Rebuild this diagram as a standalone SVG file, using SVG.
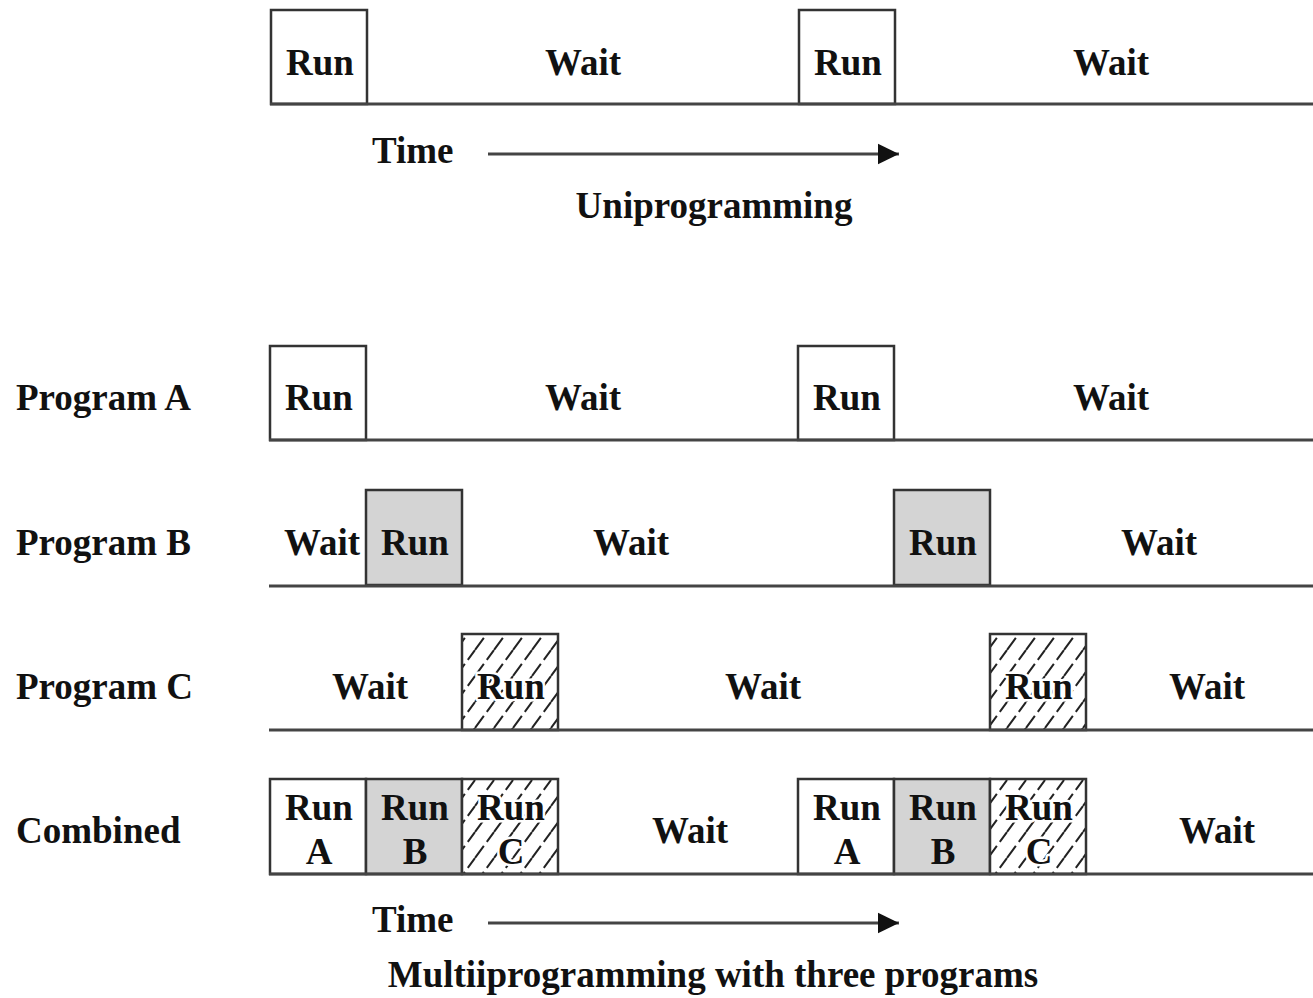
<svg xmlns="http://www.w3.org/2000/svg" width="1313" height="998" viewBox="0 0 1313 998">
  <style>
    text { font-family: "Liberation Serif", "Times New Roman", serif; font-weight: bold; font-size: 37px; fill: #111; }
    .c { text-anchor: middle; }
    .halo { stroke: #fff; stroke-width: 5; paint-order: stroke; stroke-linejoin: round; }
    .box { stroke: #333; stroke-width: 2.5; }
    .base { stroke: #444; stroke-width: 3; fill: none; }
    .white { fill: #fff; }
    .grey { fill: #d4d4d4; }
    .hatch { fill: url(#hatch); }
    .axis { stroke: #444; stroke-width: 3; fill: none; marker-end: url(#arrow); }
  </style>
  <defs>
    <pattern id="hatch" patternUnits="userSpaceOnUse" width="19" height="26">
      <rect width="19" height="26" fill="#fff"/>
      <line x1="0" y1="26" x2="19" y2="0" stroke="#222" stroke-width="2" stroke-dasharray="15 5"/>
      <line x1="-19" y1="26" x2="0" y2="0" stroke="#222" stroke-width="2" stroke-dasharray="15 5"/>
      <line x1="19" y1="26" x2="38" y2="0" stroke="#222" stroke-width="2" stroke-dasharray="15 5"/>
    </pattern>
    <marker id="arrow" markerWidth="8" markerHeight="8" refX="7" refY="4" orient="auto" markerUnits="strokeWidth">
      <polygon points="0,0.6 7,4 0,7.4" fill="#111"/>
    </marker>
  </defs>

  <!-- Uniprogramming timeline -->
  <g id="uni">
    <rect class="box white" x="271" y="10" width="96" height="94"/>
    <rect class="box white" x="799" y="10" width="96" height="94"/>
    <line class="base" x1="270" y1="104" x2="1313" y2="104"/>
    <text class="c" x="320" y="75">Run</text>
    <text class="c" x="583" y="75">Wait</text>
    <text class="c" x="848" y="75">Run</text>
    <text class="c" x="1111" y="75">Wait</text>
  </g>

  <!-- Program A -->
  <g id="progA">
    <text x="16" y="410">Program A</text>
    <rect class="box white" x="270" y="346" width="96" height="94"/>
    <rect class="box white" x="798" y="346" width="96" height="94"/>
    <line class="base" x1="269" y1="440" x2="1313" y2="440"/>
    <text class="c" x="319" y="410">Run</text>
    <text class="c" x="583" y="410">Wait</text>
    <text class="c" x="847" y="410">Run</text>
    <text class="c" x="1111" y="410">Wait</text>
  </g>

  <!-- Program B -->
  <g id="progB">
    <text x="16" y="555">Program B</text>
    <rect class="box grey" x="366" y="490" width="96" height="95"/>
    <rect class="box grey" x="894" y="490" width="96" height="95"/>
    <line class="base" x1="269" y1="586" x2="1313" y2="586"/>
    <text class="c" x="322" y="555">Wait</text>
    <text class="c" x="415" y="555">Run</text>
    <text class="c" x="631" y="555">Wait</text>
    <text class="c" x="943" y="555">Run</text>
    <text class="c" x="1159" y="555">Wait</text>
  </g>

  <!-- Program C -->
  <g id="progC">
    <text x="16" y="699">Program C</text>
    <rect class="box hatch" x="462" y="634" width="96" height="96"/>
    <rect class="box hatch" x="990" y="634" width="96" height="96"/>
    <line class="base" x1="269" y1="730" x2="1313" y2="730"/>
    <text class="c" x="370" y="699">Wait</text>
    <text class="c halo" x="511" y="699">Run</text>
    <text class="c" x="763" y="699">Wait</text>
    <text class="c halo" x="1039" y="699">Run</text>
    <text class="c" x="1207" y="699">Wait</text>
  </g>

  <!-- Combined -->
  <g id="combined">
    <text x="16" y="843">Combined</text>
    <rect class="box white" x="270" y="779" width="96" height="95"/>
    <rect class="box grey" x="366" y="779" width="96" height="95"/>
    <rect class="box hatch" x="462" y="779" width="96" height="95"/>
    <rect class="box white" x="798" y="779" width="96" height="95"/>
    <rect class="box grey" x="894" y="779" width="96" height="95"/>
    <rect class="box hatch" x="990" y="779" width="96" height="95"/>
    <line class="base" x1="269" y1="874" x2="1313" y2="874"/>
    <text class="c" x="319" y="820">Run</text>
    <text class="c" x="319" y="864">A</text>
    <text class="c" x="415" y="820">Run</text>
    <text class="c" x="415" y="864">B</text>
    <text class="c halo" x="511" y="820">Run</text>
    <text class="c halo" x="511" y="864">C</text>
    <text class="c" x="690" y="843">Wait</text>
    <text class="c" x="847" y="820">Run</text>
    <text class="c" x="847" y="864">A</text>
    <text class="c" x="943" y="820">Run</text>
    <text class="c" x="943" y="864">B</text>
    <text class="c halo" x="1039" y="820">Run</text>
    <text class="c halo" x="1039" y="864">C</text>
    <text class="c" x="1217" y="843">Wait</text>
  </g>

  <!-- Time axes -->
  <g id="connectors">
    <line class="axis" x1="488" y1="154" x2="899" y2="154"/>
    <line class="axis" x1="488" y1="923" x2="899" y2="923"/>
  </g>

  <!-- Captions -->
  <g id="captions">
    <text x="372" y="163">Time</text>
    <text class="c" x="714" y="218">Uniprogramming</text>
    <text x="372" y="932">Time</text>
    <text class="c" x="713" y="987">Multiiprogramming with three programs</text>
  </g>
</svg>
